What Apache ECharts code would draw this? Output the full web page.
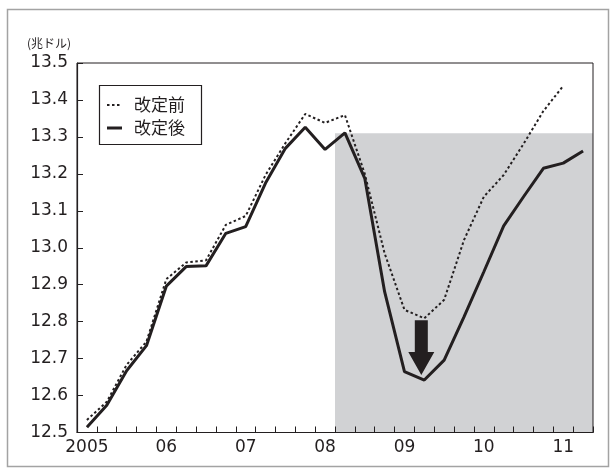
<!DOCTYPE html>
<html>
<head>
<meta charset="utf-8">
<script src="https://cdn.jsdelivr.net/npm/echarts@6/dist/echarts.min.js"></script>
<style>
html,body{margin:0;padding:0;background:#fff;}
#chart{width:611px;height:472px;}
</style>
</head>
<body>
<div id="chart"></div>
<script>
// ---- data ----
var quarters = ['2005Q1','2005Q2','2005Q3','2005Q4','2006Q1','2006Q2','2006Q3','2006Q4',
  '2007Q1','2007Q2','2007Q3','2007Q4','2008Q1','2008Q2','2008Q3','2008Q4',
  '2009Q1','2009Q2','2009Q3','2009Q4','2010Q1','2010Q2','2010Q3','2010Q4',
  '2011Q1','2011Q2'];
var yearLabels = ['2005','06','07','08','09','10','11'];
var beforeRevision = [12.534,12.583,12.683,12.746,12.915,12.960,12.966,13.062,
  13.086,13.197,13.283,13.362,13.338,13.359,13.200,12.985,
  12.832,12.809,12.859,13.021,13.138,13.197,13.281,13.370,
  13.438,null];
var afterRevision = [12.514,12.574,12.667,12.735,12.896,12.949,12.951,13.039,
  13.057,13.175,13.269,13.326,13.266,13.311,13.188,12.881,
  12.665,12.642,12.696,12.813,12.935,13.059,13.138,13.215,
  13.229,13.262];
var seriesNames = ['改定前','改定後'];
var unitLabel = '(兆ドル)';
var shadeStart = '2008Q2';
var shadeTop = 13.31;
var arrowQuarter = '2009Q2';

// ---- build ----
var ink = '#231f20';
var axisFont = 'DejaVu Sans';
var chart = echarts.init(document.getElementById('chart'), null, {renderer:'canvas'});
chart.setOption({
  animation: false,
  backgroundColor: '#fff',
  grid: {left: 77, right: 18, top: 63, bottom: 39.5, show: true, borderColor: ink, borderWidth: 1, z: 3},
  xAxis: {
    type: 'category',
    data: quarters,
    boundaryGap: true,
    z: 3,
    axisLine: {lineStyle: {color: ink, width: 1.2}},
    axisTick: {show: true, inside: true, length: 6, interval: 0, alignWithLabel: false, lineStyle: {color: ink}},
    axisLabel: {
      interval: function(i){ return i % 4 === 0; },
      formatter: function(v){ return yearLabels[parseInt(v.slice(0,4),10) - 2005]; },
      color: ink, fontFamily: axisFont, fontSize: 17, margin: 7
    },
    splitLine: {show: false}
  },
  yAxis: {
    type: 'value',
    min: 12.5, max: 13.5, interval: 0.1,
    z: 3,
    axisLine: {show: true, lineStyle: {color: ink, width: 1.2}},
    axisTick: {show: true, inside: true, length: 6, lineStyle: {color: ink}},
    axisLabel: {formatter: function(v){ return v.toFixed(1); }, color: ink, fontFamily: axisFont, fontSize: 17, margin: 9},
    splitLine: {show: false}
  },
  series: [
    {
      name: seriesNames[0], type: 'line', data: beforeRevision, symbol: 'none', showSymbol: false,
      lineStyle: {color: ink, width: 2, type: [2.5, 2.5]}, itemStyle: {color: ink}, z: 4
    },
    {
      name: seriesNames[1], type: 'line', data: afterRevision, symbol: 'none', showSymbol: false,
      lineStyle: {color: ink, width: 3}, itemStyle: {color: ink}, z: 4
    }
  ]
});

function px(i, v){ return chart.convertToPixel({xAxisIndex:0, yAxisIndex:0}, [i, v]); }
var si = quarters.indexOf(shadeStart);
var band = px(1, 13)[0] - px(0, 13)[0];
var shadeLeft = px(si, shadeTop)[0] - band / 2;
var shadeRight = px(quarters.length - 1, shadeTop)[0] + band / 2;
var shadeY = px(si, shadeTop)[1];
var shadeBottom = px(si, 12.5)[1];

var ai = quarters.indexOf(arrowQuarter);
var pA = px(ai, beforeRevision[ai]);
var pB = px(ai, afterRevision[ai]);
var arX = pA[0] - 3, arTop = pA[1] + 2, arTip = pB[1] - 5;
var headH = 23, shaftW = 6.5, headW = 13;

var lgX = 99.5, lgY = 85.5, lgW = 102, lgH = 59;
var row1 = 105, row2 = 128;

chart.setOption({
  graphic: [
    {type: 'rect', id: 'frame', shape: {x: 7.5, y: 9.5, width: 601, height: 457},
     style: {fill: 'none', stroke: '#a3a3a3', lineWidth: 1.5}, silent: true, z: 0},
    {type: 'rect', id: 'shade', z: 1, silent: true,
     shape: {x: shadeLeft, y: shadeY, width: shadeRight - shadeLeft, height: shadeBottom - shadeY},
     style: {fill: '#d1d2d4'}},
    {type: 'text', id: 'unit', x: 27, y: 37, z: 10,
     style: {text: unitLabel, fontFamily: 'Noto Sans CJK JP', fontSize: 12, fill: ink}},
    {type: 'polygon', id: 'arrow', z: 10,
     shape: {points: [
       [arX - shaftW, arTop], [arX + shaftW, arTop], [arX + shaftW, arTip - headH],
       [arX + headW, arTip - headH], [arX, arTip], [arX - headW, arTip - headH],
       [arX - shaftW, arTip - headH]
     ]},
     style: {fill: ink}},
    {type: 'rect', id: 'lgbox', z: 10, shape: {x: lgX, y: lgY, width: lgW, height: lgH},
     style: {fill: '#fff', stroke: ink, lineWidth: 1.2}},
    {type: 'line', id: 'lg1', z: 11, shape: {x1: 107, y1: row1, x2: 122, y2: row1},
     style: {stroke: ink, lineWidth: 2, lineDash: [2.5, 2.5]}},
    {type: 'line', id: 'lg2', z: 11, shape: {x1: 107, y1: row2, x2: 122, y2: row2},
     style: {stroke: ink, lineWidth: 3}},
    {type: 'text', id: 'lgt1', z: 11, x: 134, y: row1,
     style: {text: seriesNames[0], fontFamily: 'Noto Sans CJK JP', fontSize: 17, fill: ink, verticalAlign: 'middle'}},
    {type: 'text', id: 'lgt2', z: 11, x: 134, y: row2,
     style: {text: seriesNames[1], fontFamily: 'Noto Sans CJK JP', fontSize: 17, fill: ink, verticalAlign: 'middle'}}
  ]
});
</script>
</body>
</html>
